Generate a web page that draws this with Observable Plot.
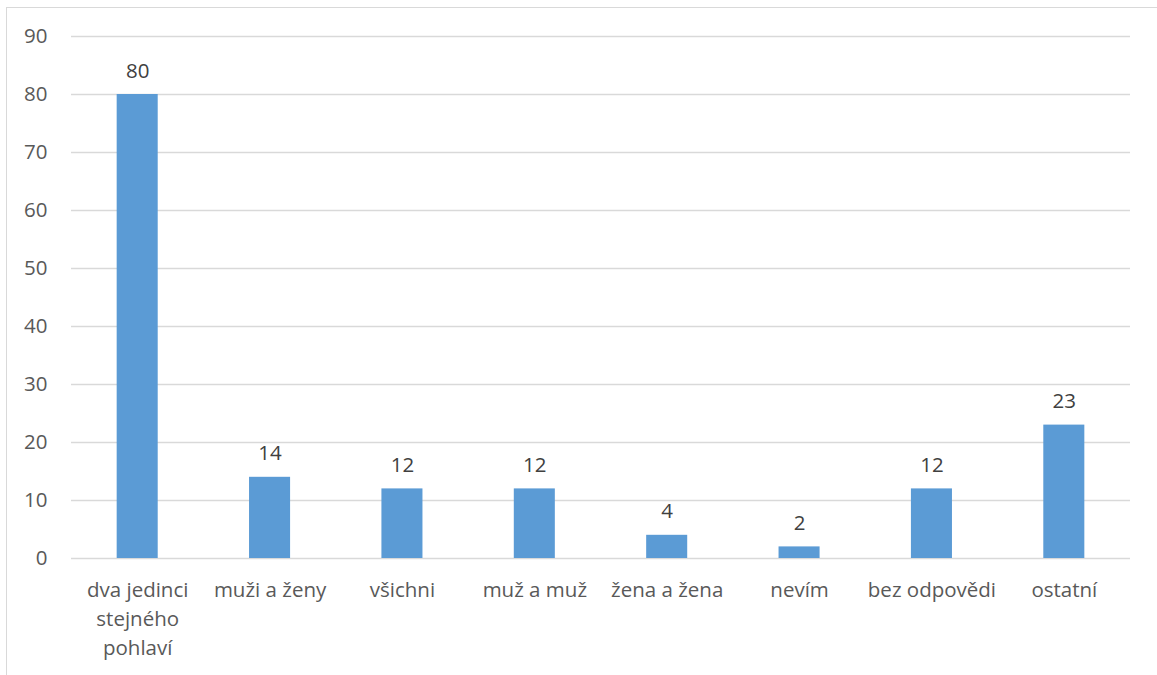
<!DOCTYPE html>
<html>
<head>
<meta charset="utf-8">
<script src="https://cdn.jsdelivr.net/npm/d3@7"></script>
<script src="https://cdn.jsdelivr.net/npm/@observablehq/plot@0.6"></script>
<style>
  html, body { margin: 0; padding: 0; background: #fff; }
  #wrap { position: relative; width: 1157px; height: 675px; overflow: hidden; }
  #frame { position: absolute; left: 6px; top: 7px; width: 1300px; height: 800px;
           border-left: 1px solid #d9d9d9; border-top: 1px solid #d9d9d9; box-sizing: border-box; }
  #chart { position: absolute; left: 0; top: 0; }
</style>
</head>
<body>
<div id="wrap"><div id="frame"></div><div id="chart"></div></div>
<script>
const categories = ["dva jedinci stejného pohlaví", "muži a ženy", "všichni", "muž a muž", "žena a žena", "nevím", "bez odpovědi", "ostatní"];
const tickLabels = ["dva jedinci\nstejného\npohlaví", "muži a ženy", "všichni", "muž a muž", "žena a žena", "nevím", "bez odpovědi", "ostatní"];
const values = [80, 14, 12, 12, 4, 2, 12, 23];
const yTicks = [0, 10, 20, 30, 40, 50, 60, 70, 80, 90];

const data = categories.map((c, i) => ({category: c, value: values[i]}));
const labelOf = new Map(categories.map((c, i) => [c, tickLabels[i]]));

const font = "'Open Sans', 'Noto Sans', sans-serif";
const fs = 20.5;
const chart = Plot.plot({
  width: 1157,
  height: 675,
  marginLeft: 71,
  marginRight: 27,
  marginTop: 36,
  marginBottom: 117,
  style: {fontFamily: font, fontSize: fs + "px", color: "#595959", background: "transparent"},
  x: {domain: categories, paddingInner: 0.69, paddingOuter: 0.345, round: false, label: null},
  y: {domain: [0, 90], label: null},
  marks: [
    Plot.gridY(yTicks, {stroke: "#d9d9d9", strokeOpacity: 1, strokeWidth: 1.3}),
    Plot.barY(data, {x: "category", y: "value", fill: "#5b9bd5"}),
    Plot.text(data, {x: "category", y: "value", text: d => String(d.value), dy: -17, lineAnchor: "bottom", fill: "#404040", fontSize: fs}),
    Plot.axisY(yTicks, {tickSize: 0, tickPadding: 24, fontSize: fs, fill: "#595959", label: null}),
    Plot.axisX({tickSize: 0, tickPadding: 18, fontSize: fs, fill: "#595959", lineHeight: 1.42, tickFormat: d => labelOf.get(d), label: null})
  ]
});
document.getElementById("chart").append(chart);
</script>
</body>
</html>
